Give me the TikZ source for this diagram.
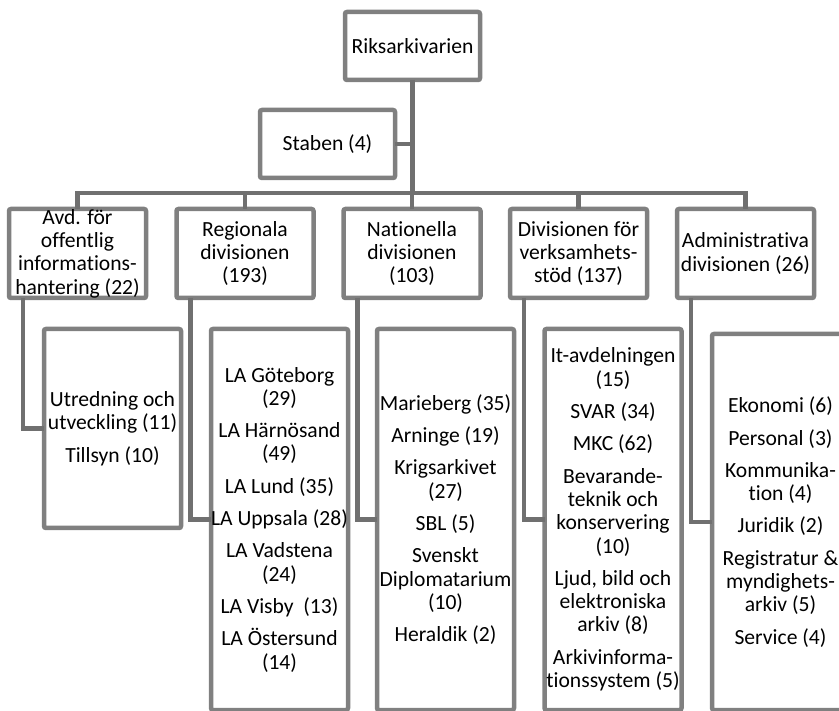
\documentclass[tikz,border=0pt]{standalone}
\usepackage{fontspec}
\setmainfont{Carlito}[Ligatures=NoCommon]
\definecolor{boxgray}{RGB}{128,128,128}
\definecolor{conngray}{RGB}{112,112,112}
\begin{document}
\begin{tikzpicture}[x=1pt,y=-1pt,
  box/.style={draw=boxgray,line width=4.5pt,rounded corners=2pt,fill=white,
    outer sep=0pt,inner sep=0pt,align=center,font=\fontsize{21.6}{23.3}\selectfont},
  head/.style={box,minimum width=135pt,minimum height=68pt},
  div/.style={box,minimum width=137pt,minimum height=89pt},
  unit/.style={box,minimum width=137pt},
  conn/.style={draw=conngray,line width=4.5pt}]
\useasboundingbox (0,0) rectangle (839,711);
\clip (0,0) rectangle (839,711);

\node[head] (riks) at (412.5,46) {Riksarkivarien};
\node[head] (stab) at (327.5,144) {Staben (4)};
\coordinate (bus) at (412.5,193);

\node[div] (avd) at (77.5,253.5) {Avd. för\\offentlig\\informations-\\hantering (22)};
\node[div] (reg) at (245,253.5) {Regionala\\divisionen\\(193)};
\node[div] (nat) at (412,253.5) {Nationella\\divisionen\\(103)};
\node[div] (ver) at (578.5,253.5) {Divisionen för\\verksamhets-\\stöd (137)};
\node[div] (adm) at (745.5,253.5) {Administrativa\\divisionen (26)};

\node[unit,minimum height=199pt] (utr) at (112.5,428.5)
  {Utredning och\\utveckling (11)\\[9pt]Tillsyn (10)};
\node[unit,minimum height=381pt] (la) at (279.5,519.5)
  {LA Göteborg\\(29)\\[9pt]LA Härnösand\\(49)\\[9pt]LA Lund (35)\\[9pt]LA Uppsala (28)\\[9pt]LA Vadstena\\(24)\\[9pt]LA Visby~~(13)\\[9pt]LA Östersund\\(14)};
\node[unit,minimum height=381pt] (mar) at (445.5,519.5)
  {Marieberg (35)\\[9pt]Arninge (19)\\[9pt]Krigsarkivet\\(27)\\[9pt]SBL (5)\\[9pt]Svenskt\\Diplomatarium\\(10)\\[9pt]Heraldik (2)};
\node[unit,minimum height=381pt] (it) at (613,519.5)
  {It-avdelningen\\(15)\\[9pt]SVAR (34)\\[9pt]MKC (62)\\[9pt]Bevarande-\\teknik och\\konservering\\(10)\\[9pt]Ljud, bild och\\elektroniska\\arkiv (8)\\[9pt]Arkivinforma-\\tionssystem (5)};
\node[unit,minimum height=376pt] (eko) at (780.5,522)
  {Ekonomi (6)\\[9pt]Personal (3)\\[9pt]Kommunika-\\tion (4)\\[9pt]Juridik (2)\\[9pt]Registratur \&\\myndighets-\\arkiv (5)\\[9pt]Service (4)};

\draw[conn] (riks.south) -- (bus);
\draw[conn] (stab.east) -- (stab.east -| bus);
\foreach \d in {avd,reg,nat,ver,adm}
  \draw[conn] (bus) -| (\d.north);

\draw[conn] ([xshift=14pt]avd.south west) |- (utr.west);
\draw[conn] ([xshift=14pt]reg.south west) |- (la.west);
\draw[conn] ([xshift=14pt]nat.south west) |- (mar.west);
\draw[conn] ([xshift=14pt]ver.south west) |- (it.west);
\draw[conn] ([xshift=14pt]adm.south west) |- (eko.west);

\end{tikzpicture}
\end{document}
